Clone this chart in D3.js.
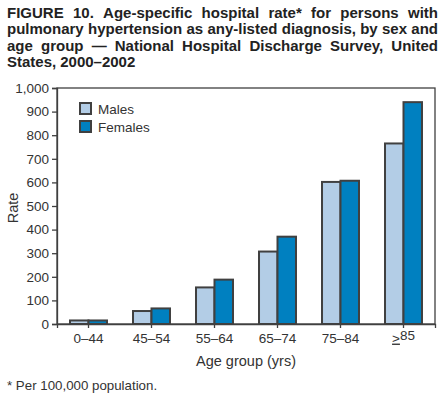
<!DOCTYPE html>
<html><head><meta charset="utf-8">
<script src="https://cdn.jsdelivr.net/npm/d3@7"></script>
<style>body{margin:0;background:#fff}svg{display:block}</style>
</head><body>
<script>
const categories = ["0–44","45–54","55–64","65–74","75–84","≥85"];
const males   = [15, 55, 155, 307, 602, 765];
const females = [15, 66, 188, 370, 607, 940];
const seriesNames = ["Males","Females"];
const yTicks = [0,100,200,300,400,500,600,700,800,900,1000];
const titleLines = [
  "FIGURE 10. Age-specific hospital rate* for persons with",
  "pulmonary hypertension as any-listed diagnosis, by sex and",
  "age group — National Hospital Discharge Survey, United",
  "States, 2000–2002"
];
const footnote = "* Per 100,000 population.";

const W = 445, H = 398;
const colors = ["#b3cde6", "#0080c0"];
const stroke = "#404040";
const textCol = "#333";
const font = "Liberation Sans, Arial, Helvetica, sans-serif";

const svg = d3.select("body").append("svg").attr("width", W).attr("height", H)
  .style("font-family", font);

// Title, justified
const tx0 = 7, tx1 = 438;
titleLines.forEach((line, i) => {
  const y = 18 + i * 16.3;
  const words = line.split(" ");
  const g = svg.append("g");
  const nodes = words.map(w => g.append("text").attr("y", y)
      .attr("font-size", 15).attr("font-weight", "bold").attr("fill", "#222").text(w));
  const widths = nodes.map(n => n.node().getComputedTextLength());
  const total = d3.sum(widths);
  const justify = i < titleLines.length - 1;
  const gap = justify ? (tx1 - tx0 - total) / (words.length - 1) : 4;
  let x = tx0;
  nodes.forEach((n, k) => { n.attr("x", x); x += widths[k] + gap; });
});

const m = {left: 57, right: 435, top: 88, bottom: 324};
const x = d3.scaleBand().domain(categories).range([m.left, m.right])
  .paddingInner(0.413).paddingOuter(0.2065);
const xs = d3.scaleBand().domain(seriesNames).range([0, x.bandwidth()]);
const y = d3.scaleLinear().domain([0, 1000]).range([m.bottom, m.top]);

// frame
svg.append("rect").attr("x", m.left).attr("y", m.top)
  .attr("width", m.right - m.left).attr("height", m.bottom - m.top)
  .attr("fill", "none").attr("stroke", stroke).attr("stroke-width", 1.3);

// bars
const data = categories.map((c, i) => ({c, vals: [males[i], females[i]]}));
const groups = svg.append("g").selectAll("g").data(data).join("g")
  .attr("transform", d => `translate(${x(d.c)},0)`);
groups.selectAll("rect").data(d => d.vals.map((v, k) => ({v, k})))
  .join("rect")
  .attr("x", d => xs(seriesNames[d.k]))
  .attr("y", d => y(d.v))
  .attr("width", xs.bandwidth())
  .attr("height", d => y(0) - y(d.v))
  .attr("fill", d => colors[d.k])
  .attr("stroke", stroke).attr("stroke-width", 2);

// y axis
const ya = svg.append("g").attr("transform", `translate(${m.left},0)`)
  .call(d3.axisLeft(y).tickValues(yTicks).tickSize(5).tickPadding(3)
    .tickFormat(d3.format(",")));
ya.select(".domain").attr("stroke", stroke).attr("stroke-width", 1.3);
ya.selectAll(".tick line").attr("stroke", stroke).attr("stroke-width", 1.3);
ya.selectAll("text").attr("font-size", 13.5).attr("fill", textCol).attr("font-family", font);

// x axis
const xa = svg.append("g").attr("transform", `translate(0,${m.bottom})`)
  .call(d3.axisBottom(x).tickSize(4).tickPadding(5));
xa.select(".domain").attr("stroke", stroke).attr("stroke-width", 1.3);
xa.selectAll(".tick line").attr("stroke", stroke).attr("stroke-width", 1.3);
xa.selectAll("text").attr("font-size", 13.5).attr("fill", textCol).attr("font-family", font)
  .each(function(d) {
    if (d.startsWith("≥")) {
      const t = d3.select(this).text(null);
      t.append("tspan").attr("text-decoration", "underline").text(">");
      t.append("tspan").attr("dy", -3).text(d.slice(1));
    }
  });

// axis titles
svg.append("text").attr("x", 246).attr("y", 366).attr("text-anchor", "middle")
  .attr("font-size", 14.5).attr("fill", textCol).text("Age group (yrs)");
svg.append("text").attr("transform", "translate(18,208) rotate(-90)")
  .attr("text-anchor", "middle").attr("font-size", 14.5).attr("fill", textCol).text("Rate");

// legend
const lg = svg.append("g").attr("transform", "translate(80,103)");
seriesNames.forEach((s, i) => {
  lg.append("rect").attr("x", 0).attr("y", i * 18).attr("width", 11).attr("height", 11)
    .attr("fill", colors[i]).attr("stroke", stroke).attr("stroke-width", 2);
  lg.append("text").attr("x", 18).attr("y", i * 18 + 10.5).attr("font-size", 13.5)
    .attr("fill", textCol).text(s);
});

// footnote
svg.append("text").attr("x", 7).attr("y", 390).attr("font-size", 13.3)
  .attr("fill", textCol).text(footnote);
</script>
</body></html>
